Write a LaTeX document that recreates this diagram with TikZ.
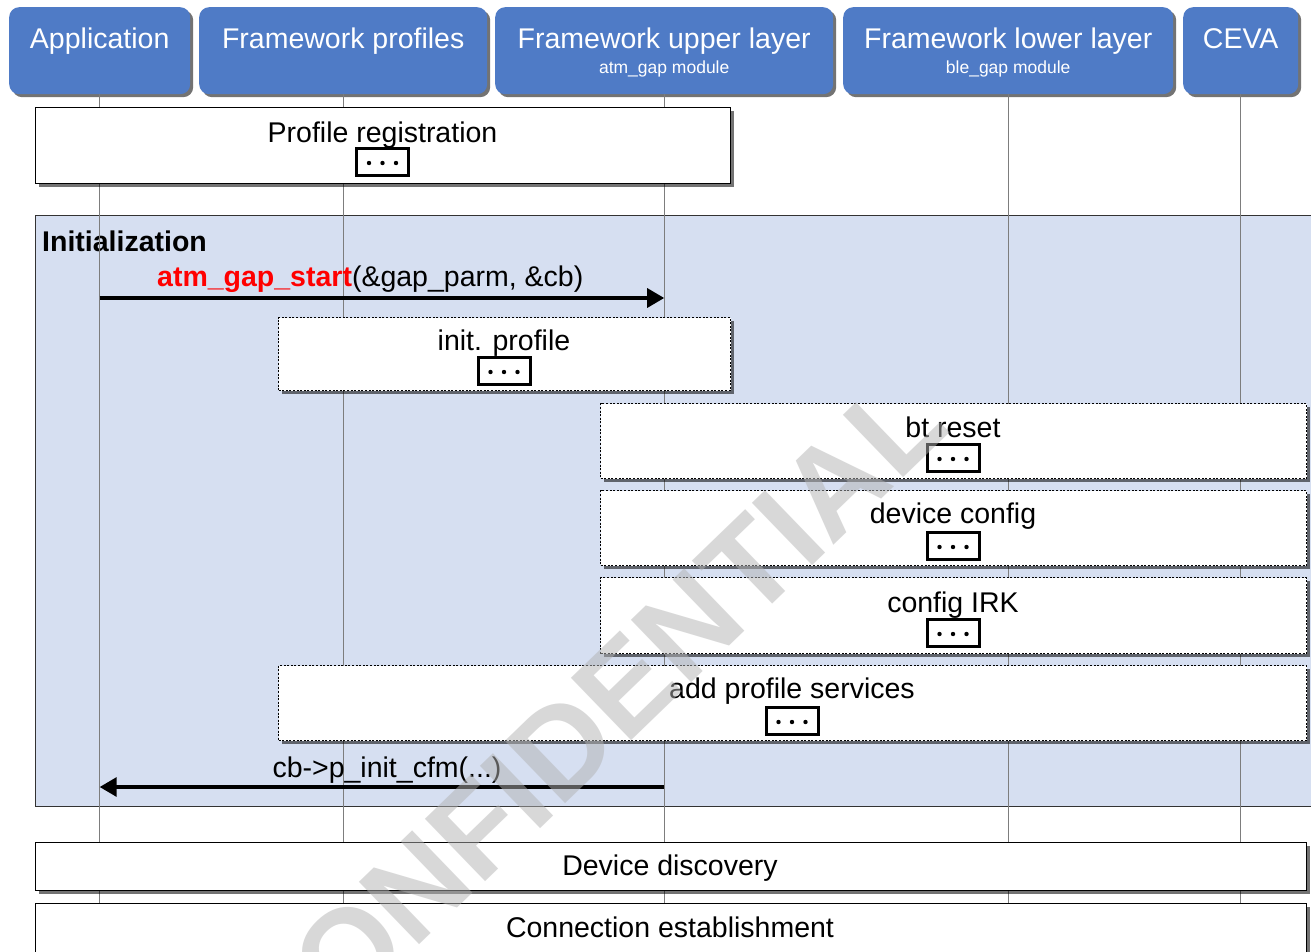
\documentclass[tikz,border=0pt]{standalone}
\usepackage{fontspec}
\setmainfont{Liberation Sans}
\usetikzlibrary{arrows.meta,shadows}

\definecolor{headblue}{RGB}{79,123,198}
\definecolor{groupfill}{RGB}{214,223,241}
\definecolor{lifegray}{RGB}{125,125,125}

\tikzset{
  shade3/.style={drop shadow={shadow xshift=3pt,shadow yshift=-3pt,fill=black,opacity=0.55}},
  head/.style={fill=headblue, rounded corners=10pt, inner sep=0pt, minimum height=87pt,
               anchor=north west, shade3},
  title/.style={text=white, font=\fontsize{28.5}{30}\selectfont, anchor=base, inner sep=0pt},
  subtitle/.style={text=white, font=\fontsize{17.5}{20}\selectfont, anchor=base, inner sep=0pt},
  life/.style={draw=lifegray, line width=1pt},
  group/.style={fill=groupfill, draw=black!80, line width=1.4pt, inner sep=0pt, anchor=north west},
  solidbox/.style={fill=white, draw=black, line width=1.4pt, inner sep=0pt, anchor=north west, shade3},
  dotbox/.style={fill=white, draw=black, line width=1.2pt, dash pattern=on 2pt off 1.6pt,
                 inner sep=0pt, anchor=north west, shade3},
  body/.style={font=\fontsize{28.5}{30}\selectfont, anchor=base, inner sep=0pt},
  msg/.style={line width=3.2pt, -{Triangle[length=17pt,width=19pt]}},
  morebox/.pic={
    \draw[line width=3pt, fill=white] (-26,-13.5) rectangle (26,13.5);
    \foreach \dx in {-13.5,0,13.5} \fill (\dx,1) circle (2.2);
  },
  watermark/.style={text=black!30, opacity=0.5, font=\fontsize{126}{126}\selectfont\bfseries, inner sep=0pt}
}

\begin{document}
\begin{tikzpicture}[x=1pt,y=-1pt]
  % canvas
  \fill[white] (0,0) rectangle (1311,951);
  \useasboundingbox (0,0) rectangle (1311,951);
  \coordinate (bottom) at (0,951);

  % Initialization group frame
  \node[group, minimum width=1300pt, minimum height=591pt] (init) at (35,215) {};
  \node[font=\fontsize{28.5}{30}\selectfont\bfseries, anchor=base west, inner sep=0pt] (initT) at (42,251) {Initialization};

  % participant heads
  \node[head, minimum width=181pt] (hApp) at (9,7) {};
  \node[head, minimum width=288pt] (hProf) at (199,7) {};
  \node[head, minimum width=338pt] (hUp) at (495,7) {};
  \node[head, minimum width=330pt] (hLow) at (843,7) {};
  \node[head, minimum width=115pt] (hCeva) at (1183,7) {};

  % lifelines
  \foreach \h in {hApp,hProf,hUp,hLow,hCeva}
    \draw[life] (\h.south) -- (\h.south |- bottom);

  \node[title] (tApp) at (hApp.south |- 0,48) {Application};
  \node[title] (tProf) at (hProf.south |- 0,48) {Framework profiles};
  \node[title] (tUp) at (hUp.south |- 0,48) {Framework upper layer};
  \node[subtitle] (sUp) at (hUp.south |- 0,73) {atm\_gap module};
  \node[title] (tLow) at (hLow.south |- 0,48) {Framework lower layer};
  \node[subtitle] (sLow) at (hLow.south |- 0,73) {ble\_gap module};
  \node[title] (tCeva) at (hCeva.south |- 0,48) {CEVA};

  % profile registration
  \node[solidbox, minimum width=695pt, minimum height=76pt] (reg) at (35,107) {};
  \node[body] (regT) at (382.5,142) {Profile registration};
  \pic at (382.5,162) {morebox};

  % messages and phases of the initialization
  \coordinate (m1a) at (hApp.south |- 0,298);
  \coordinate (m1b) at (hUp.south |- 0,298);
  \draw[msg] (m1a) -- (m1b);
  \node[body, anchor=base west] (m1T) at (157,286)
    {\textcolor{red}{\bfseries atm\_gap\_start}(\&gap\_parm, \&cb)};

  \node[dotbox, minimum width=452pt, minimum height=73pt] (initp) at (278,317) {};
  \node[body] (initpT) at (504,350) {init. profile};
  \pic at (504,371) {morebox};

  \node[dotbox, minimum width=706pt, minimum height=75pt] (bt) at (600,403) {};
  \node[body] (btT) at (953,437) {bt reset};
  \pic at (953,458) {morebox};

  \node[dotbox, minimum width=706pt, minimum height=75pt] (dev) at (600,490) {};
  \node[body] (devT) at (953,523) {device config};
  \pic at (953,546) {morebox};

  \node[dotbox, minimum width=706pt, minimum height=76pt] (irk) at (600,577) {};
  \node[body] (irkT) at (953,612) {config IRK};
  \pic at (953,633) {morebox};

  \node[dotbox, minimum width=1028pt, minimum height=75pt] (svc) at (278,665) {};
  \node[body] (svcT) at (792,698) {add profile services};
  \pic at (792,721) {morebox};

  \coordinate (m2a) at (hUp.south |- 0,787);
  \coordinate (m2b) at (hApp.south |- 0,787);
  \draw[msg] (m2a) -- (m2b);
  \node[body] (m2T) at (387,777) {cb->p\_init\_cfm(...)};

  % later phases
  \node[solidbox, minimum width=1271pt, minimum height=48pt] (disc) at (35,842) {};
  \node[body] (discT) at (670,875) {Device discovery};
  \node[solidbox, minimum width=1271pt, minimum height=70pt] (conn) at (35,903) {};
  \node[body] (connT) at (670,937) {Connection establishment};

  % watermark
  \node[watermark, rotate=44] (wm) at (585,725) {CONFIDENTIAL};
\end{tikzpicture}
\end{document}
